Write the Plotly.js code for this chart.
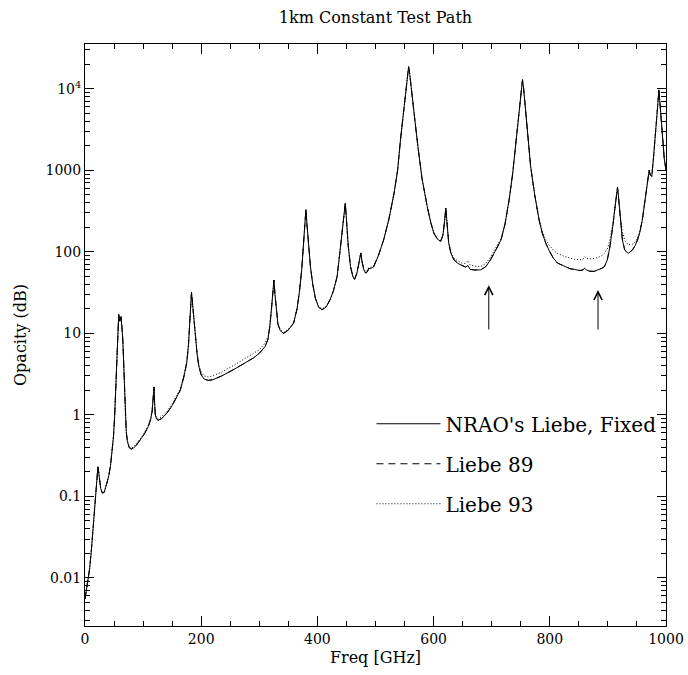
<!DOCTYPE html>
<html><head><meta charset="utf-8">
<script src="https://cdn.plot.ly/plotly-3.0.1.min.js"></script>
<style>html,body{margin:0;padding:0;background:#fff;}#chart{width:688px;height:675px;}</style>
</head><body><div id="chart"></div>
<script>
// Frequency grid (GHz)
const freqGHz = [
  0,4,8,11,14,16,18.5,20.5,22.2,23.5,25,27,30,33,37,41,44,47,49,51,53,54.5,55.7,
  57,58,59,60,61,62,63.5,65,66.5,68,69.5,71,73,76,79,
  83,88,95,102,109,113,115.5,117.5,118.8,119.8,121,123,126,
  132,141,150,158,164,170,175,178,180,182,183.3,185,187,190,193,196,
  200,205,212,220,235,256,275,290,300,310,315,
  318,321,323,325.2,327,329.5,332,336,342,350,
  359,365,369,373,376,378.5,380.2,382,385,388,392,396.5,402,408,415,
  422,428,434,438.5,442,446,448,450,453,457,461,464,468,471,474.7,477,480,483,486,488.5,491,497,
  505,514,523,532,538,543,548,552,555,557,559,563,568,573,580,589,595,600.5,606,612,
  616,619,621,623,626,630,635,642,649,655,659,663,670,681,690,698,707,716,
  723,730,736,741,746,749,751.5,753,755,759,763,767,774,781.6,787,793,
  800,806,813,825,835,842,852,857,860,863,868,876,884,890,894,899,
  903,906,909,912,914.5,916.5,918.5,921,925,929,935,942,947,951,955,
  959,962.5,966,969,971,973,975.5,978,981,983,985.5,987.8,990,994,997,1000
];
// Opacity (dB) - NRAO's Liebe, Fixed
const nraoLiebeFixed = [
  0.0055,0.0085,0.013,0.022,0.043,0.07,0.11,0.17,0.23,0.2,0.15,0.125,0.11,0.112,0.14,0.18,0.24,0.36,0.54,0.95,2.0,4.0,8.5,
  13,17,15.5,14,15.5,16,12,8.5,4.5,1.8,0.95,0.62,0.47,0.40,0.38,
  0.39,0.42,0.49,0.58,0.72,0.88,1.1,1.6,2.2,1.4,1.0,0.89,0.86,
  0.9,1.05,1.3,1.65,2.0,2.9,4.3,7,11,22,32,24,14,8.5,5.5,3.9,
  3.1,2.75,2.65,2.7,3.0,3.6,4.3,5.0,5.7,6.9,8.5,
  12,20,30,45,30,18,13,10.8,10,11,
  13.3,20,32,60,110,200,330,220,110,66,40,27,21,19.5,21,
  26,34,50,96,160,300,395,250,120,66,50,46,55,70,97,75,60,55,57,63,62,66,
  90,140,250,525,1000,2360,5000,9700,15000,18700,15000,8900,4000,1960,800,360,230,170,145,134,
  160,240,345,230,128,95,80,72,68,65,68,61,60,60,66,80,105,140,
  220,435,900,1960,4200,7300,11000,12900,10000,5000,2300,1120,500,245,170,128,
  100,84,73,66,62,61,59,60,63,60,58,57.5,60,63,66,80,
  110,150,220,340,480,620,450,260,140,105,96,105,120,140,175,
  240,360,550,800,1000,880,840,1300,2200,3460,6000,9700,6000,2360,1400,1000
];
// Opacity (dB) - Liebe 89
const liebe89 = [
  0.0055,0.0085,0.013,0.022,0.043,0.07,0.11,0.17,0.23,0.2,0.15,0.125,0.11,0.112,0.14,0.18,0.24,0.36,0.54,0.95,2.0,4.0,8.5,
  13,17,15.5,14,15.5,16,12,8.5,4.5,1.8,0.95,0.62,0.47,0.40,0.38,
  0.39,0.42,0.49,0.58,0.72,0.88,1.1,1.6,2.2,1.4,1.0,0.89,0.86,
  0.9,1.05,1.3,1.65,2.0,2.9,4.3,7,11,22,32,24,14,8.5,5.5,3.9,
  3.1,2.75,2.65,2.7,3.0,3.6,4.3,5.0,5.7,6.9,8.5,
  12,20,30,45,30,18,13,10.8,10,11,
  13.3,20,32,60,110,200,330,220,110,66,40,27,21,19.5,21,
  26,34,50,96,160,300,395,250,120,66,50,46,55,70,97,75,60,55,57,63,62,66,
  90,140,250,525,1000,2360,5000,9700,15000,18700,15000,8900,4000,1960,800,360,230,170,145,134,
  160,240,345,230,128,95,80,72,68,65,68,61,60,60,66,80,105,140,
  220,435,900,1960,4200,7300,11000,12900,10000,5000,2300,1120,500,245,170,128,
  100,84,73,66,62,61,59,60,63,60,58,57.5,60,63,66,80,
  110,150,220,340,480,620,450,260,140,105,96,105,120,140,175,
  240,360,550,800,1000,880,840,1300,2200,3460,6000,9700,6000,2360,1400,1000
];
// Opacity (dB) - Liebe 93
const liebe93 = [
  0.0055,0.0085,0.013,0.022,0.043,0.07,0.11,0.17,0.23,0.2,0.15,0.125,0.11,0.112,0.14,0.18,0.24,0.36,0.54,0.95,2.0,4.0,8.5,
  13,17,15.5,14,15.5,16,12,8.5,4.5,1.8,0.97,0.64,0.48,0.41,0.39,
  0.40,0.44,0.51,0.60,0.75,0.91,1.13,1.63,2.2,1.45,1.04,0.92,0.9,
  0.95,1.1,1.37,1.73,2.1,3.0,4.5,7.2,11,22,32,24,14.5,8.9,5.8,4.2,
  3.35,3.0,2.92,3.0,3.35,4.05,4.85,5.6,6.3,7.6,9.2,
  12.5,20,30,45,30,18.5,13.3,11.2,10.3,11.3,
  13.6,20,32,60,110,200,330,220,110,66,40,27.5,21.5,20,21.5,
  26,34,50,96,160,300,395,250,120,66,50,46.5,55,70,97,75,61,57,59,64,64,68,
  90,140,250,525,1000,2360,5000,9700,15000,18700,15000,8900,4000,1960,800,360,230,170,145,134,
  160,240,345,230,130,98,84,77,73,72,78,69,67,66,72,86,110,145,
  220,435,900,1960,4200,7300,11000,12900,10000,5000,2300,1120,500,250,180,142,
  118,105,96,88,84,81,80,81,87,83,82,83,86,90,96,108,
  135,170,235,350,490,620,460,285,175,138,122,124,132,148,180,
  240,360,550,800,1000,880,840,1300,2200,3460,6000,9700,6000,2360,1400,1000
];
const seriesNames = ["NRAO's Liebe, Fixed", "Liebe 89", "Liebe 93"];
const xTickVals = [0,200,400,600,800,1000];
const xTickText = ['0','200','400','600','800','1000'];
const yTickVals = [0.01,0.1,1,10,100,1000,10000];
const yTickText = ['0.01','0.1','1','10','100','1000','10<sup>4</sup>'];
const arrowFreq = [695, 883];
const arrowTip = [39, 34];
const arrowTail = [10.7, 10.7];

if (freqGHz.length !== nraoLiebeFixed.length || freqGHz.length !== liebe89.length || freqGHz.length !== liebe93.length) {
  console.error('length mismatch', freqGHz.length, nraoLiebeFixed.length, liebe89.length, liebe93.length);
}

const FONT = 'DejaVu Serif';
const styles = [
  {color:'#000', width:1, dash:'solid'},
  {color:'#000', width:1, dash:'7px,5px'},
  {color:'#000', width:1, dash:'1px,2px'}
];
const values = [nraoLiebeFixed, liebe89, liebe93];
const traces = values.map((v,i)=>({
  type:'scatter', mode:'lines', x:freqGHz, y:v, name:seriesNames[i],
  legendgroup:'g'+i, line:styles[i], hoverinfo:'skip'
}));

const annotations = arrowFreq.map((f,i)=>({
  x:f, y:Math.log10(arrowTip[i]), xref:'x', yref:'y',
  ax:f, ay:Math.log10(arrowTail[i]), axref:'x', ayref:'y',
  text:'', showarrow:true, arrowhead:5, arrowsize:1.6, arrowwidth:1, arrowcolor:'#000'
}));

const axisCommon = {
  showline:true, linecolor:'#000', linewidth:1, mirror:'allticks',
  ticks:'inside', tickcolor:'#000', tickwidth:1,
  showgrid:false, zeroline:false,
  tickfont:{family:FONT, size:14, color:'#000'}
};

const layout = {
  width:688, height:675,
  margin:{l:85, r:22, t:44, b:49},
  paper_bgcolor:'#fff', plot_bgcolor:'#fff',
  font:{family:FONT, size:14, color:'#000'},
  title:{text:'1km Constant Test Path', font:{family:FONT, size:16, color:'#000'},
         xref:'paper', x:0.5, xanchor:'center', yref:'container', y:1-17/675, yanchor:'middle'},
  showlegend:true,
  legend:{x:0.493, y:0.381, xanchor:'left', yanchor:'top', bgcolor:'rgba(0,0,0,0)',
          font:{family:FONT, size:20, color:'#000'}, itemwidth:64, tracegroupgap:11,
          traceorder:'grouped', borderwidth:0},
  xaxis:Object.assign({}, axisCommon, {
    range:[0,1000], tickmode:'array', tickvals:xTickVals, ticktext:xTickText, ticklen:10,
    minor:{dtick:50, tick0:0, ticks:'inside', ticklen:5, tickcolor:'#000', showgrid:false},
    title:{text:'Freq [GHz]', font:{family:FONT, size:16, color:'#000'}, standoff:6}
  }),
  yaxis:Object.assign({}, axisCommon, {
    type:'log', range:[-2.59, 4.55], tickmode:'array', tickvals:yTickVals, ticktext:yTickText, ticklen:9,
    minor:{dtick:'D1', ticks:'inside', ticklen:5, tickcolor:'#000', showgrid:false},
    title:{text:'Opacity (dB)', font:{family:FONT, size:16, color:'#000'}, standoff:14}
  }),
  annotations:annotations
};

Plotly.newPlot('chart', traces, layout, {staticPlot:true, displayModeBar:false});
</script>
</body></html>
